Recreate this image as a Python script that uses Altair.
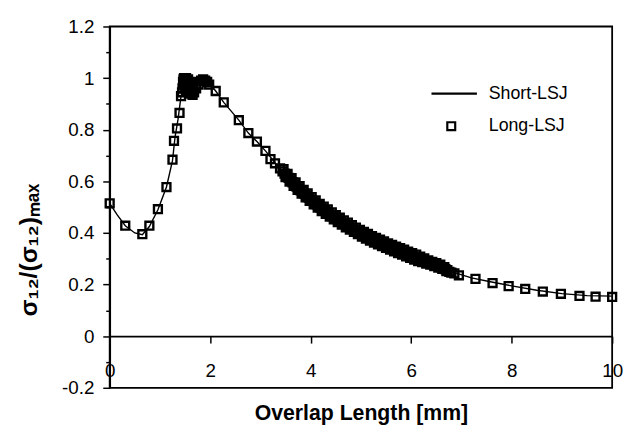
import altair as alt
import pandas as pd

# Long-LSJ (square markers)
long_x = [0.00, 0.31, 0.65, 0.79, 0.96, 1.13, 1.25, 1.28, 1.34, 1.39, 1.42,
          1.44, 1.45, 1.46, 1.47, 1.48, 1.49, 1.50, 1.51, 1.52, 1.53, 1.54, 1.55, 1.56,
          1.57, 1.58, 1.59, 1.60, 1.61, 1.62, 1.63, 1.64, 1.65, 1.66, 1.67, 1.68,
          1.72, 1.77, 1.82, 1.86, 1.90, 1.94, 1.98, 2.11, 2.27, 2.57, 2.76, 2.93, 3.10,
          3.20, 3.29, 3.39,
          3.44, 3.48, 3.52, 3.56, 3.60, 3.64, 3.68, 3.72, 3.76, 3.80, 3.84, 3.88,
          3.92, 3.96, 4.00, 4.04, 4.08, 4.12, 4.16, 4.20, 4.24, 4.28, 4.32, 4.36,
          4.40, 4.44, 4.48, 4.52, 4.56, 4.60, 4.64, 4.68, 4.72, 4.76, 4.80, 4.84,
          4.88, 4.92, 4.96, 5.00, 5.04, 5.08, 5.12, 5.16, 5.20, 5.24, 5.28, 5.32,
          5.36, 5.40, 5.44, 5.48, 5.52, 5.56, 5.60, 5.64, 5.68, 5.72, 5.76, 5.80,
          5.84, 5.88, 5.92, 5.96, 6.00, 6.04, 6.08, 6.12, 6.16, 6.20, 6.24, 6.28,
          6.32, 6.36, 6.40, 6.44, 6.48, 6.52, 6.56, 6.60, 6.64, 6.68, 6.72,
          3.46, 3.50, 3.54, 3.58, 3.62, 3.66, 3.70, 3.74, 3.78, 3.82, 3.86, 3.90,
          3.94, 3.98, 4.02, 4.06, 4.10, 4.14, 4.18, 4.22, 4.26, 4.30, 4.34, 4.38,
          4.42, 4.46, 4.50, 4.54, 4.58, 4.62, 4.66, 4.70, 4.74, 4.78, 4.82, 4.86,
          4.90, 4.94, 4.98, 5.02, 5.06, 5.10, 5.14, 5.18, 5.22, 5.26, 5.30, 5.34,
          5.38, 5.42, 5.46, 5.50, 5.54, 5.58, 5.62, 5.66, 5.70, 5.74, 5.78, 5.82,
          5.86, 5.90, 5.94, 5.98, 6.02, 6.06, 6.10, 6.14, 6.18, 6.22, 6.26, 6.30,
          6.34, 6.38, 6.42, 6.46, 6.50, 6.54, 6.58, 6.62, 6.66, 6.70,
          6.76, 6.80, 6.86, 6.95, 7.28, 7.62, 7.94, 8.27, 8.62, 8.98, 9.35, 9.67, 10.00]
long_y = [0.515, 0.428, 0.395, 0.428, 0.492, 0.578, 0.684, 0.757, 0.805, 0.865, 0.930,
          0.945, 0.960, 0.985, 0.995, 1.000, 0.980, 0.960, 0.990, 1.000, 0.975, 0.950, 0.985,
          0.995, 0.965, 0.945, 0.980, 0.960, 0.940, 0.970, 0.985, 0.950, 0.935, 0.960, 0.975,
          0.945, 0.960, 0.975, 0.990, 0.995, 0.990, 0.985, 0.975, 0.950, 0.906, 0.837, 0.787,
          0.754, 0.718,
          0.686, 0.670, 0.650,
          0.639, 0.630, 0.621, 0.613, 0.604, 0.596, 0.588, 0.580, 0.573, 0.565, 0.558, 0.551,
          0.544, 0.537, 0.530, 0.524, 0.517, 0.511, 0.504, 0.498, 0.492, 0.487, 0.481, 0.476,
          0.470, 0.465, 0.460, 0.454, 0.449, 0.444, 0.439, 0.434, 0.430, 0.425, 0.420, 0.416,
          0.411, 0.407, 0.402, 0.398, 0.394, 0.390, 0.386, 0.382, 0.378, 0.374, 0.371, 0.367,
          0.364, 0.360, 0.357, 0.353, 0.350, 0.346, 0.343, 0.340, 0.337, 0.333, 0.330, 0.327,
          0.324, 0.321, 0.317, 0.314, 0.311, 0.308, 0.305, 0.302, 0.299, 0.296, 0.293, 0.290,
          0.288, 0.285, 0.282, 0.279, 0.276, 0.274, 0.271, 0.268, 0.264, 0.260, 0.256,
          0.647, 0.616, 0.629, 0.599, 0.612, 0.582, 0.596, 0.567, 0.581, 0.552, 0.567, 0.538,
          0.553, 0.524, 0.539, 0.511, 0.526, 0.498, 0.513, 0.485, 0.502, 0.474, 0.491, 0.463,
          0.480, 0.453, 0.469, 0.442, 0.459, 0.432, 0.449, 0.422, 0.440, 0.413, 0.430, 0.404,
          0.421, 0.395, 0.412, 0.386, 0.404, 0.378, 0.396, 0.370, 0.388, 0.363, 0.381, 0.356,
          0.374, 0.349, 0.367, 0.342, 0.360, 0.335, 0.354, 0.329, 0.347, 0.322, 0.341, 0.316,
          0.335, 0.309, 0.328, 0.303, 0.322, 0.297, 0.316, 0.291, 0.308, 0.287, 0.301, 0.281,
          0.294, 0.277, 0.288, 0.271, 0.283, 0.266, 0.277, 0.261, 0.268, 0.252,
          0.249, 0.246, 0.243, 0.236, 0.222, 0.206, 0.194, 0.183, 0.173, 0.164, 0.156, 0.153, 0.152]

# Short-LSJ (solid line)
short_x = [0.00, 0.15, 0.31, 0.50, 0.65, 0.79, 0.96, 1.13, 1.25, 1.30, 1.36, 1.42, 1.48,
           1.55, 1.65, 1.80, 1.90, 2.00, 2.11, 2.27, 2.57, 2.76, 2.93, 3.10, 3.29, 3.50,
           3.80, 4.00, 4.40, 4.80, 5.20, 5.60, 6.00, 6.40, 6.80, 7.20, 7.60, 8.00, 8.50,
           9.00, 9.50, 10.00]
short_y = [0.515, 0.470, 0.428, 0.400, 0.393, 0.425, 0.490, 0.578, 0.680, 0.770, 0.840, 0.930, 0.980,
           0.990, 0.970, 0.990, 0.990, 0.975, 0.950, 0.906, 0.837, 0.787, 0.754, 0.718, 0.672, 0.628,
           0.565, 0.530, 0.470, 0.420, 0.378, 0.343, 0.311, 0.282, 0.250, 0.226, 0.210, 0.195, 0.178,
           0.165, 0.157, 0.155]

series_names = ["Short-LSJ", "Long-LSJ"]
y_ticks = [-0.2, -0.1, 0, 0.1, 0.2, 0.3, 0.4, 0.5, 0.6, 0.7, 0.8, 0.9, 1, 1.1, 1.2]
x_ticks = [0, 2, 4, 6, 8, 10]

long_df = pd.DataFrame({"x": long_x, "y": long_y, "series": "Long-LSJ"})
short_df = pd.DataFrame({"x": short_x, "y": short_y, "series": "Short-LSJ"})

FONT = "Liberation Sans"
major_test = "indexof(['-0.2','0','0.2','0.4','0.6','0.8','1','1.2'], '' + datum.value) >= 0"

x_enc = alt.X("x:Q", scale=alt.Scale(domain=[0, 10], nice=False, zero=False),
              axis=alt.Axis(values=x_ticks, title="Overlap Length [mm]", offset=-52.3,
                            tickSize=7, tickWidth=1.5, labelPadding=19, labelFontSize=19,
                            labelFlush=False, grid=False, titleFontSize=21.5, titleFontWeight="bold",
                            titleX=254.5, titleY=78, titleAlign="center", titleBaseline="middle",
                            format="d"))
y_enc = alt.Y("y:Q", scale=alt.Scale(domain=[-0.2, 1.2], nice=False, zero=False),
              axis=alt.Axis(values=y_ticks, title="σ₁₂/(σ₁₂)ₘₐₓ", grid=False,
                            labelExpr=f"({major_test}) ? '' + datum.value : ''",
                            labelOverlap=False, labelFontSize=19, labelPadding=9,
                            tickSize={"condition": {"test": major_test, "value": 7}, "value": 4},
                            tickWidth=1.5, titleFontSize=25, titleFontWeight="bold",
                            titleX=-82, titleY=226, titleAngle=270, titleAlign="center",
                            titleBaseline="middle"))

line = alt.Chart(short_df).mark_line(color="black", strokeWidth=1.4).encode(x=x_enc, y=y_enc)

points = alt.Chart(long_df).mark_point(filled=False, color="black", strokeWidth=2.4,
                                       size=64, opacity=1).encode(
    x=x_enc, y=y_enc,
    shape=alt.Shape("series:N",
                    scale=alt.Scale(domain=series_names, range=["M-5,0H6.5", "square"]),
                    legend=alt.Legend(orient="none", legendX=337, legendY=59, title=None,
                                      labelFontSize=18, labelFont=FONT, labelOffset=29,
                                      labelColor="black",
                                      symbolSize=64, symbolStrokeColor="black",
                                      symbolStrokeWidth=2.2, symbolFillColor="transparent",
                                      rowPadding=15, padding=0)))

chart = alt.layer(line, points).properties(
    width=509, height=366,
    background="white",
    autosize=alt.AutoSizeParams(type="none"),
    padding={"left": 103, "top": 16, "right": 12, "bottom": 38},
).configure_view(stroke="black", strokeWidth=1.8).configure_axis(
    domainColor="black", domainWidth=1.8, tickColor="black", labelColor="black",
    titleColor="black", labelFont=FONT, titleFont=FONT
)

chart.save("out.html", embed_options={"renderer": "svg", "actions": False})
